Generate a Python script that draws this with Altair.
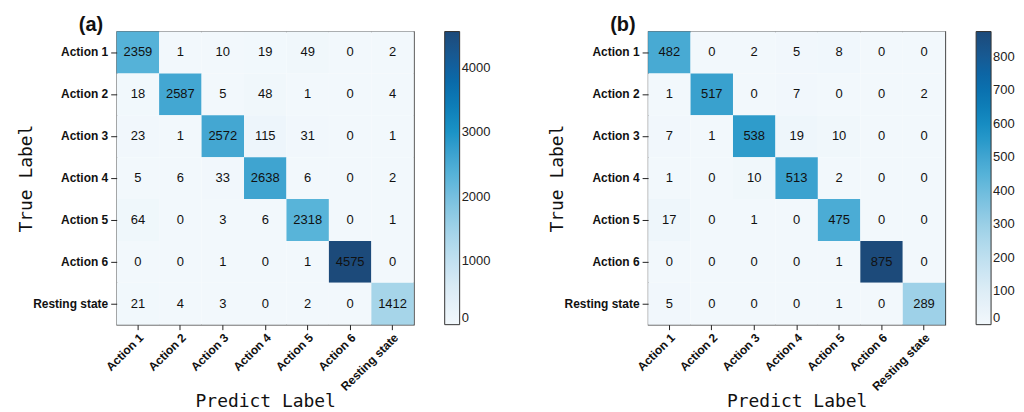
import altair as alt
import pandas as pd

labels = ["Action 1", "Action 2", "Action 3", "Action 4", "Action 5", "Action 6", "Resting state"]

cm_a_row1 = [2359, 1, 10, 19, 49, 0, 2]
cm_a_row2 = [18, 2587, 5, 48, 1, 0, 4]
cm_a_row3 = [23, 1, 2572, 115, 31, 0, 1]
cm_a_row4 = [5, 6, 33, 2638, 6, 0, 2]
cm_a_row5 = [64, 0, 3, 6, 2318, 0, 1]
cm_a_row6 = [0, 0, 1, 0, 1, 4575, 0]
cm_a_row7 = [21, 4, 3, 0, 2, 0, 1412]

cm_b_row1 = [482, 0, 2, 5, 8, 0, 0]
cm_b_row2 = [1, 517, 0, 7, 0, 0, 2]
cm_b_row3 = [7, 1, 538, 19, 10, 0, 0]
cm_b_row4 = [1, 0, 10, 513, 2, 0, 0]
cm_b_row5 = [17, 0, 1, 0, 475, 0, 0]
cm_b_row6 = [0, 0, 0, 0, 1, 875, 0]
cm_b_row7 = [5, 0, 0, 0, 1, 0, 289]

ticks_a = [0, 1000, 2000, 3000, 4000]
ticks_b = [0, 100, 200, 300, 400, 500, 600, 700, 800]

cm_a = [cm_a_row1, cm_a_row2, cm_a_row3, cm_a_row4, cm_a_row5, cm_a_row6, cm_a_row7]
cm_b = [cm_b_row1, cm_b_row2, cm_b_row3, cm_b_row4, cm_b_row5, cm_b_row6, cm_b_row7]

stops = [0.0, 0.12, 0.3, 0.5, 0.65, 0.85, 1.0]
colors = ["#f2f8fc", "#dcecf6", "#a9d6ea", "#5ab5da", "#1c94c7", "#0b66a6", "#1c4a7a"]


def panel(cm, tag, ticks):
    rows = []
    for i, t in enumerate(labels):
        for j, p in enumerate(labels):
            rows.append({"true": t, "pred": p, "value": cm[i][j]})
    df = pd.DataFrame(rows)
    m = max(max(r) for r in cm)
    base = alt.Chart(df).encode(
        x=alt.X("pred:N", sort=labels, title="Predict Label",
                scale=alt.Scale(paddingInner=0, paddingOuter=0),
                axis=alt.Axis(labelAngle=-45, domain=False, ticks=True, tickSize=5,
                              tickColor="#222", labelFont="Liberation Sans",
                              labelFontWeight="bold", labelFontSize=12, labelColor="#111",
                              titleFont="DejaVu Sans Mono", titleFontSize=18,
                              titleFontWeight="normal", titleColor="#111", titlePadding=0)),
        y=alt.Y("true:N", sort=labels, title="True Label",
                scale=alt.Scale(paddingInner=0, paddingOuter=0),
                axis=alt.Axis(domain=False, ticks=True, tickSize=6, tickColor="#222",
                              labelFont="Liberation Sans", labelFontWeight="bold",
                              labelFontSize=12, labelColor="#111", labelPadding=3,
                              titleFont="DejaVu Sans Mono", titleFontSize=18,
                              titleFontWeight="normal", titleColor="#111", titlePadding=-3)),
    )
    rect = base.mark_rect().encode(
        color=alt.Color("value:Q",
                        scale=alt.Scale(domain=[s * m for s in stops], range=colors),
                        legend=alt.Legend(title=None, values=ticks, format="d",
                                          gradientLength=294,
                                          gradientThickness=15, gradientStrokeColor="#333",
                                          gradientStrokeWidth=1, labelFont="Liberation Sans",
                                          labelFontSize=13, labelColor="#222", offset=31,
                                          labelOffset=2, direction="vertical"))
    )
    text = base.mark_text(fontSize=13, color="#111", font="Liberation Sans").encode(
        text="value:Q")
    return alt.layer(rect, text).properties(
        width=298, height=294,
        title=alt.TitleParams(f"({tag})", anchor="start", frame="group", dx=-38, dy=5,
                              fontSize=20, font="Liberation Sans", fontWeight="bold",
                              color="#111", offset=2))


chart = alt.hconcat(panel(cm_a, "a", ticks_a), panel(cm_b, "b", ticks_b), spacing=57
                    ).resolve_scale(color="independent").configure_view(
    stroke="#333", strokeWidth=1.2).properties(
    padding={"left": 9, "top": 5, "right": 0, "bottom": 0})

chart.save("out.html", embed_options={"renderer": "svg", "actions": False})
